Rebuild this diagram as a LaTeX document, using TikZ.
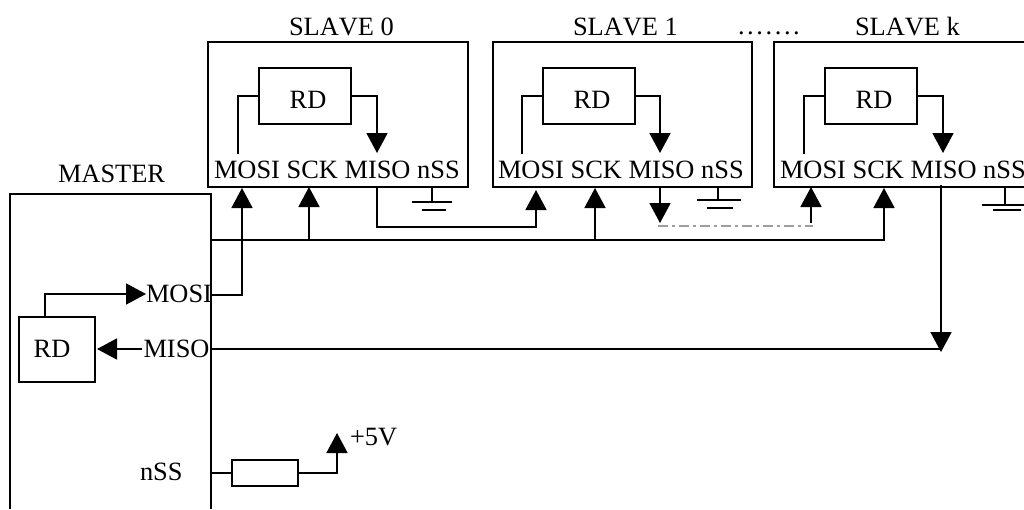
\documentclass[tikz,border=0pt]{standalone}
\usepackage{fontspec}
\setmainfont[Kerning=Off]{Liberation Serif}
\usetikzlibrary{arrows.meta}
\tikzset{
  wire/.style={line width=1.7pt,line cap=butt,line join=miter,black},
  arrowwire/.style={wire,-{Triangle[length=20pt,width=21pt]}},
  label/.style={inner sep=0pt,outer sep=0pt,anchor=base west,font=\fontsize{26.4}{30}\selectfont},
  rdtext/.style={inner sep=0pt,outer sep=0pt,anchor=base,font=\fontsize{26.4}{30}\selectfont},
  graydash/.style={line width=2pt,draw=black!38,dash pattern=on 10pt off 4pt on 3pt off 4pt},
  groundline/.style={line width=1.7pt,black},
  rdbox/.style={draw=black,line width=1.7pt,inner sep=0pt,outer sep=0pt}
}
\begin{document}
\begin{tikzpicture}[x=1pt,y=-1pt]
\useasboundingbox (0,0) rectangle (1024,509);
% ---- master
\draw[wire] (10,509) -- (10,194) -- (211,194) -- (211,509);
\node[label] (lmaster) at (58,182) {MASTER};
\node[rdbox,minimum width=76pt,minimum height=65pt] (mrd) at (57,349.5) {};
\node[rdtext] (mrdt) at (52,357) {RD};
\node[label] (mmosi) at (146,302) {MOSI};
\node[label] (mmiso) at (143.5,357) {MISO};
\node[label] (mnss) at (140,480) {nSS};
\node[rdbox,minimum width=66pt,minimum height=26pt] (res) at (265,473) {};
\node[label] (p5v) at (350,445) {+5V};
\coordinate (mmosipin) at (146,294);
\coordinate (mmisopin) at (142,349);
\coordinate (mrdr) at (97,349);
\draw[arrowwire] (45,317) -- (45,294) -- (mmosipin);
\draw[arrowwire] (mmisopin) -- (mrdr);
\coordinate (vcc) at (337,433);
\draw[wire] (211,473) -- (res.west);
\draw[arrowwire] (res.east) -- (337,473) -- (vcc);
% ---- slaves
\draw[wire] (208,42) rectangle (468,187);
\node[label] (title0) at (289,35) {SLAVE 0};
\node[label] (pins0) at (214,178) {MOSI SCK MISO nSS};
\draw[wire] (493,42) rectangle (752,187);
\node[label] (title1) at (573,35) {SLAVE 1};
\node[label] (pins1) at (498,178) {MOSI SCK MISO nSS};
\draw[wire] (1024,42) -- (774,42) -- (774,187) -- (1024,187);
\node[label] (titlek) at (855,35) {SLAVE k};
\node[label] (pinsk) at (780,178) {MOSI SCK MISO nSS};
\node[label] (dots) at (738,34) {.\kern2.6pt.\kern2.6pt.\kern2.6pt.\kern2.6pt.\kern2.6pt.\kern2.6pt.};
% internal RD blocks
\foreach \n/\cx/\mosi/\out in {0/305/238/377, 1/589/522/660, k/871/804/943}{
  \node[rdbox,minimum width=92pt,minimum height=56pt] (rd\n) at (\cx,96) {};
  \node[rdtext] at (\cx+3,108) {RD};
  \coordinate (in\n) at (\mosi,154);
  \coordinate (tip\n) at (\out,153);
  \draw[wire] (in\n) -- (\mosi,96) -- (rd\n.west);
  \draw[arrowwire] (rd\n.east) -- (\out,96) -- (tip\n);
}
% ---- bus SCK
\coordinate (busl) at (210,240);
\coordinate (busr) at (885,240);
\draw[wire] (busl) -- (busr);
\draw[arrowwire] (309,240) -- (309,187);
\draw[arrowwire] (595,240) -- (595,188);
\draw[arrowwire] (884,240) -- (884,188);
% ---- MOSI to slave 0
\draw[arrowwire] (211,295) -- (242,295) -- (242,188);
% ---- daisy chain
\draw[arrowwire] (377,187) -- (377,227) -- (536,227) -- (536,190);
\draw[arrowwire] (660,186) -- (660,223);
\draw[arrowwire] (811,223) -- (811,187);
\draw[graydash] (658,226.1) -- (813,226.1);
% ---- MISO return
\draw[wire] (211,349) -- (941,349);
\draw[arrowwire] (941,185) -- (941,352);
% ---- grounds
\draw[groundline] (432,187) -- (432,203) (412,202) -- (452,202) (422,210) -- (446,210);
\draw[groundline] (718,186) -- (718,201) (697,200) -- (741,200) (707,208) -- (733,208);
\draw[groundline] (1005,187) -- (1005,206) (982,205) -- (1024,205) (993,210) -- (1021,210);
\end{tikzpicture}
\end{document}
